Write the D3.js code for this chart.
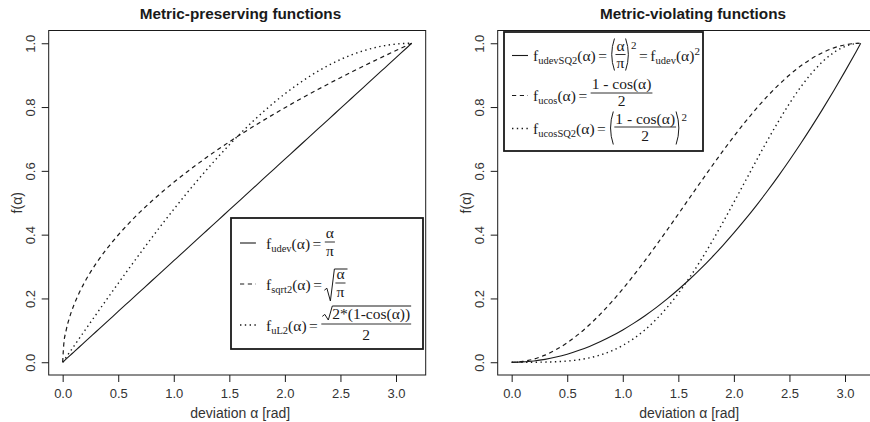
<!DOCTYPE html>
<html>
<head>
<meta charset="utf-8">
<script src="https://cdn.jsdelivr.net/npm/d3@7"></script>
<style>
  body { margin: 0; background: #fff; }
</style>
</head>
<body>
<div id="chart"></div>
<script>
// ---------- data ----------
const alpha = [0, 0.01, 0.03, 0.06, 0.1, 0.15, 0.2,
  0.3, 0.4, 0.5, 0.6, 0.7, 0.8, 0.9, 1.0, 1.1, 1.2, 1.3, 1.4, 1.5, 1.6, 1.7, 1.8, 1.9,
  2.0, 2.1, 2.2, 2.3, 2.4, 2.5, 2.6, 2.7, 2.8, 2.9, 3.0, 3.1, 3.1416];

const fUdev = [0, 0.0032, 0.0095, 0.0191, 0.0318, 0.0477, 0.0637,
  0.0955, 0.1273, 0.1592, 0.1910, 0.2228, 0.2546, 0.2865, 0.3183, 0.3501, 0.3820, 0.4138, 0.4456, 0.4775,
  0.5093, 0.5411, 0.5730, 0.6048, 0.6366, 0.6685, 0.7003, 0.7321, 0.7639, 0.7958, 0.8276, 0.8594, 0.8913,
  0.9231, 0.9549, 0.9868, 1];
const fSqrt2 = [0, 0.0564, 0.0977, 0.1382, 0.1784, 0.2185, 0.2523,
  0.3090, 0.3568, 0.3989, 0.4370, 0.4720, 0.5046, 0.5352, 0.5642, 0.5917, 0.6180, 0.6433, 0.6676, 0.6910,
  0.7137, 0.7356, 0.7569, 0.7777, 0.7979, 0.8176, 0.8368, 0.8556, 0.8740, 0.8921, 0.9097, 0.9271, 0.9441,
  0.9608, 0.9772, 0.9934, 1];
const fUL2 = [0, 0.0050, 0.0150, 0.0300, 0.0500, 0.0749, 0.0998,
  0.1494, 0.1987, 0.2474, 0.2955, 0.3429, 0.3894, 0.4350, 0.4794, 0.5227, 0.5646, 0.6052, 0.6442, 0.6816,
  0.7174, 0.7513, 0.7833, 0.8134, 0.8415, 0.8674, 0.8912, 0.9128, 0.9320, 0.9490, 0.9636, 0.9757, 0.9854,
  0.9927, 0.9975, 0.9998, 1];

const fUdevSQ2 = [0, 0.0000, 0.0001, 0.0004, 0.0010, 0.0023, 0.0041,
  0.0091, 0.0162, 0.0253, 0.0365, 0.0496, 0.0648, 0.0821, 0.1013, 0.1226, 0.1459, 0.1712, 0.1986, 0.2280,
  0.2594, 0.2928, 0.3283, 0.3658, 0.4053, 0.4468, 0.4904, 0.5360, 0.5836, 0.6333, 0.6849, 0.7386, 0.7944,
  0.8521, 0.9119, 0.9737, 1];
const fUcos = [0, 0.0000, 0.0002, 0.0009, 0.0025, 0.0056, 0.0100,
  0.0223, 0.0395, 0.0612, 0.0873, 0.1176, 0.1516, 0.1892, 0.2298, 0.2732, 0.3188, 0.3663, 0.4150, 0.4646,
  0.5147, 0.5644, 0.6136, 0.6616, 0.7081, 0.7524, 0.7943, 0.8332, 0.8686, 0.9006, 0.9285, 0.9520, 0.9710,
  0.9855, 0.9950, 0.9996, 1];
const fUcosSQ2 = [0, 0, 0, 0, 0, 0, 0.0001,
  0.0005, 0.0016, 0.0037, 0.0076, 0.0138, 0.0230, 0.0358, 0.0528, 0.0746, 0.1016, 0.1342, 0.1722, 0.2158,
  0.2649, 0.3186, 0.3765, 0.4377, 0.5014, 0.5661, 0.6308, 0.6942, 0.7545, 0.8111, 0.8621, 0.9063, 0.9429,
  0.9711, 0.9900, 0.9992, 1];

const xTicks = [0, 0.5, 1.0, 1.5, 2.0, 2.5, 3.0];
const yTicks = [0, 0.2, 0.4, 0.6, 0.8, 1.0];
const titles = ["Metric-preserving functions", "Metric-violating functions"];

// ---------- setup ----------
const W = 870, H = 422;
const ink = "#1a1a1a";
const sans = "'Liberation Sans', Arial, Helvetica, sans-serif";
const serif = "'Liberation Serif', 'Times New Roman', serif";
const MAIN = 15.5, SUB = 10.5, FR = 15.5, SUP = 11;

const dashes = { solid: null, dashed: "4.2,3.6", dotted: "1.4,3.4" };
const widths = { solid: 1.1, dashed: 1.2, dotted: 1.4 };

const svg = d3.select("#chart").append("svg")
  .attr("width", W).attr("height", H)
  .attr("viewBox", `0 0 ${W} ${H}`);

const plotTop = 30.5, plotBottom = 375;

const panels = [
  { left: 48.7, right: 425.7, titleX: 240.5, title: titles[0],
    series: [{ y: fUdev, lty: "solid" }, { y: fSqrt2, lty: "dashed" }, { y: fUL2, lty: "dotted" }] },
  { left: 497.7, right: 874.7, titleX: 693, title: titles[1],
    series: [{ y: fUdevSQ2, lty: "solid" }, { y: fUcos, lty: "dashed" }, { y: fUcosSQ2, lty: "dotted" }] }
];

panels.forEach(p => {
  const g = svg.append("g");

  const x = d3.scaleLinear()
    .domain([-0.04 * Math.PI, 1.04 * Math.PI])
    .range([p.left, p.right]);
  const y = d3.scaleLinear()
    .domain([-0.04, 1.04])
    .range([plotBottom, plotTop]);

  // curves
  const line = d3.line()
    .x((d, i) => x(alpha[i]))
    .y(d => y(d))
    .curve(d3.curveMonotoneX);

  p.series.forEach(s => {
    g.append("path")
      .attr("d", line(s.y))
      .attr("fill", "none")
      .attr("stroke", ink)
      .attr("stroke-width", widths[s.lty])
      .attr("stroke-dasharray", dashes[s.lty]);
  });

  // box
  g.append("rect")
    .attr("x", p.left).attr("y", plotTop)
    .attr("width", p.right - p.left).attr("height", plotBottom - plotTop)
    .attr("fill", "none").attr("stroke", ink).attr("stroke-width", 1);

  // x axis
  const gx = g.append("g")
    .attr("transform", `translate(0,${plotBottom})`)
    .call(d3.axisBottom(x).tickValues(xTicks).tickSize(7).tickPadding(7)
      .tickFormat(d3.format(".1f")));
  gx.select(".domain").remove();
  gx.selectAll("line").attr("stroke", ink);
  gx.selectAll("text").attr("font-family", sans).attr("font-size", 13).attr("fill", "#333");

  // y axis
  const gy = g.append("g")
    .attr("transform", `translate(${p.left},0)`)
    .call(d3.axisLeft(y).tickValues(yTicks).tickSize(7)
      .tickFormat(d3.format(".1f")));
  gy.select(".domain").remove();
  gy.selectAll("line").attr("stroke", ink);
  gy.selectAll("text")
    .attr("x", null).attr("dy", null)
    .attr("text-anchor", "middle")
    .attr("transform", "translate(-14,0) rotate(-90)")
    .attr("font-family", sans).attr("font-size", 13).attr("fill", "#333");

  // labels
  g.append("text")
    .attr("x", p.titleX).attr("y", 18.5)
    .attr("text-anchor", "middle")
    .attr("font-family", sans).attr("font-weight", "bold").attr("font-size", 15.3)
    .attr("fill", ink)
    .text(p.title);

  g.append("text")
    .attr("x", (p.left + p.right) / 2 + 3).attr("y", 418)
    .attr("text-anchor", "middle")
    .attr("font-family", sans).attr("font-size", 14).attr("fill", "#333")
    .text("deviation α [rad]");

  g.append("text")
    .attr("transform", `translate(${p.left - 27},${(plotTop + plotBottom) / 2}) rotate(-90)`)
    .attr("text-anchor", "middle")
    .attr("font-family", sans).attr("font-size", 14).attr("fill", "#333")
    .text("f(α)");
});

// ---------- legend helpers ----------
function put(g, x, y, str, size, anchor) {
  const t = g.append("text")
    .attr("x", x).attr("y", y)
    .attr("font-family", serif).attr("font-size", size)
    .attr("fill", ink)
    .text(str);
  if (anchor) t.attr("text-anchor", anchor);
  return t.node().getComputedTextLength();
}

function textWidth(g, str, size) {
  const t = g.append("text").attr("font-family", serif).attr("font-size", size).text(str);
  const w = t.node().getComputedTextLength();
  t.remove();
  return w;
}

// f_sub(α) =
function fname(g, x, y, sub) {
  x += put(g, x, y, "f", MAIN);
  x += put(g, x, y + 3, sub, SUB);
  x += put(g, x, y, "(α)", MAIN);
  x += 2.5;
  x += put(g, x, y, "=", MAIN);
  return x + 2.5;
}

function bar(g, x1, x2, yb) {
  g.append("line").attr("x1", x1).attr("x2", x2).attr("y1", yb).attr("y2", yb)
    .attr("stroke", ink).attr("stroke-width", 0.9);
}

function frac(g, x, barY, num, den, numGap = 4, denGap = 13) {
  const wn = textWidth(g, num, FR), wd = textWidth(g, den, FR);
  const w = Math.max(wn, wd) + 2;
  put(g, x + w / 2, barY - numGap, num, FR, "middle");
  put(g, x + w / 2, barY + denGap, den, FR, "middle");
  bar(g, x, x + w, barY);
  return x + w;
}

function radical(g, x, top, bottom, width) {
  const mid = bottom - (bottom - top) * 0.4;
  g.append("path")
    .attr("d", `M${x},${mid + 2} L${x + 2.5},${mid} L${x + 6},${bottom} L${x + 10},${top} L${x + 10 + width},${top}`)
    .attr("fill", "none").attr("stroke", ink).attr("stroke-width", 1);
  return x + 10;
}

function paren(g, x, top, bottom, open) {
  const w = 4.5, m = (top + bottom) / 2;
  const d = open
    ? `M${x + w},${top} Q${x - 1},${m} ${x + w},${bottom}`
    : `M${x},${top} Q${x + w + 1},${m} ${x},${bottom}`;
  g.append("path").attr("d", d).attr("fill", "none").attr("stroke", ink).attr("stroke-width", 1);
  return x + w + 1;
}

function legendBox(g, x, y, w, h) {
  g.append("rect").attr("x", x).attr("y", y).attr("width", w).attr("height", h)
    .attr("fill", "#fff").attr("stroke", ink).attr("stroke-width", 1.8);
}

function sample(g, x1, x2, yl, lty) {
  g.append("line").attr("x1", x1).attr("x2", x2).attr("y1", yl).attr("y2", yl)
    .attr("stroke", ink).attr("stroke-width", widths[lty])
    .attr("stroke-dasharray", dashes[lty]);
}

// ---------- left legend ----------
{
  const g = svg.append("g");
  legendBox(g, 231, 218, 192, 131);
  const tx = 266;

  // row 1: f_udev = α/π
  let ly = 243;
  sample(g, 240, 256, ly, "solid");
  let cx = fname(g, tx, ly + 5.5, "udev");
  frac(g, cx + 1, ly - 1, "α", "π", 4, 13.5);

  // row 2: f_sqrt2 = sqrt(α/π)
  ly = 284;
  sample(g, 240, 256, ly, "dashed");
  cx = fname(g, tx, ly + 5.5, "sqrt2");
  const fw = Math.max(textWidth(g, "α", FR), textWidth(g, "π", FR)) + 2;
  const rx = radical(g, cx, ly - 15, ly + 17, fw + 3);
  frac(g, rx + 1, ly - 1, "α", "π", 4, 13.5);

  // row 3: f_uL2 = sqrt(2*(1-cos α))/2
  ly = 325;
  sample(g, 240, 256, ly, "dotted");
  cx = fname(g, tx, ly + 5.5, "uL2");
  const nstr = "2*(1-cos(α))";
  const nw = textWidth(g, nstr, FR);
  const tot = nw + 12;
  bar(g, cx + 1, cx + 1 + tot, ly - 1);
  const rx3 = radical(g, cx + 2, ly - 19, ly - 5, nw + 1);
  put(g, rx3, ly - 6, nstr, FR);
  put(g, cx + 1 + tot / 2, ly + 15, "2", FR, "middle");
}

// ---------- right legend ----------
{
  const g = svg.append("g");
  legendBox(g, 504, 32, 199, 119);
  const tx = 533;

  // row 1: f_udevSQ2 = (α/π)^2 = f_udev^2
  let ly = 55.5;
  sample(g, 512, 528, ly, "solid");
  let cx = fname(g, tx, ly + 5.5, "udevSQ2");
  cx = paren(g, cx + 0.5, ly - 17, ly + 15, true);
  cx = frac(g, cx, ly - 1, "α", "π", 4, 13.5);
  cx = paren(g, cx, ly - 17, ly + 15, false);
  cx += put(g, cx, ly - 7, "2", SUP);
  cx += 2.5;
  cx += put(g, cx, ly + 5.5, "=", MAIN);
  cx += 2.5;
  cx += put(g, cx, ly + 5.5, "f", MAIN);
  cx += put(g, cx, ly + 8.5, "udev", SUB);
  cx += put(g, cx, ly + 5.5, "(α)", MAIN);
  put(g, cx, ly - 1, "2", SUP);

  // row 2: f_ucos = (1 - cos α)/2
  ly = 95.5;
  sample(g, 512, 528, ly, "dashed");
  cx = fname(g, tx, ly + 5.5, "ucos");
  frac(g, cx + 1, ly - 2.5, "1 - cos(α)", "2", 4, 12.5);

  // row 3: f_ucosSQ2 = ((1 - cos α)/2)^2
  ly = 128.5;
  sample(g, 512, 528, ly, "dotted");
  cx = fname(g, tx, ly + 5.5, "ucosSQ2");
  cx = paren(g, cx + 0.5, ly - 17, ly + 16, true);
  cx = frac(g, cx, ly - 1.5, "1 - cos(α)", "2", 3.5, 14);
  cx = paren(g, cx, ly - 17, ly + 16, false);
  put(g, cx, ly - 8, "2", SUP);
}
</script>
</body>
</html>
